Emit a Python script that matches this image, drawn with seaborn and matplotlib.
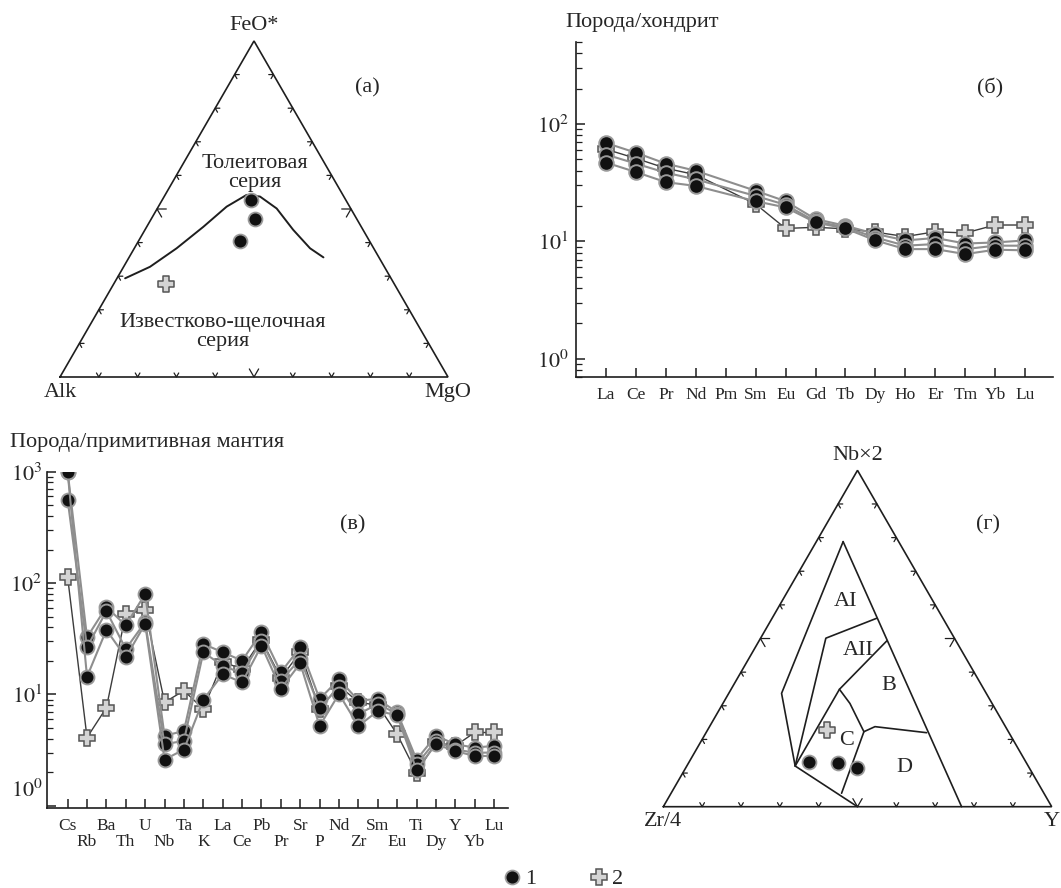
import numpy as np
import pandas as pd
import matplotlib
matplotlib.use("Agg")
import matplotlib.pyplot as plt
import seaborn as sns
from matplotlib.lines import Line2D
from matplotlib.ticker import NullFormatter, NullLocator, LogLocator
from matplotlib.transforms import ScaledTranslation

# ------------------------------------------------------------------ data
# (а) AFM diagram: Alk - FeO* - MgO (wt. %)
afm_alk_1 = [24.4, 26.3, 33.3]
afm_feo_1 = [52.7, 46.9, 40.5]
afm_mgo_1 = [22.9, 26.8, 26.2]
afm_alk_2 = [58.8]
afm_feo_2 = [27.7]
afm_mgo_2 = [13.5]
# tholeiitic / calc-alkaline dividing line
ib_alk = [68.6, 60.4, 50.8, 40.7, 31.7, 24.8, 21.6, 19.1, 18.0, 16.4, 14.3]
ib_feo = [29.4, 32.8, 38.3, 44.7, 50.7, 54.2, 53.7, 50.2, 43.8, 38.3, 35.6]
ib_mgo = [2.1, 6.8, 10.9, 14.6, 17.6, 21.0, 24.7, 30.8, 38.2, 45.3, 50.1]

# (б) chondrite-normalised REE
ree = ['La', 'Ce', 'Pr', 'Nd', 'Pm', 'Sm', 'Eu', 'Gd', 'Tb', 'Dy', 'Ho', 'Er', 'Tm', 'Yb', 'Lu']
nan = np.nan
ree_s1 = [69, 57, 46, 40, nan, 27, 22, 15.5, 13.6, 11.6, 10.2, 10.7, 9.6, 9.8, 10.2]
ree_s2 = [55, 46, 38.5, 33.8, nan, 24.4, 20.5, 14.8, 13.2, 10.8, 9.2, 9.5, 8.6, 9.2, 9.2]
ree_s3 = [47, 39, 32, 29.7, nan, 22, 19.5, 14.5, 12.9, 10.2, 8.6, 8.6, 7.8, 8.5, 8.4]
ree_x = [61, 51, 42, 37, nan, 20.8, 12.9, 13.2, 12.8, 12.0, 11.0, 12.1, 11.8, 13.8, 13.8]
ree_yticks = [1, 10, 100]
ree_yticklabels = [r'$10^0$', r'$10^1$', r'$10^2$']

# (в) primitive-mantle normalised spidergram
pm = ['Cs', 'Rb', 'Ba', 'Th', 'U', 'Nb', 'Ta', 'K', 'La', 'Ce', 'Pb', 'Pr', 'Sr',
      'P', 'Nd', 'Zr', 'Sm', 'Eu', 'Ti', 'Dy', 'Y', 'Yb', 'Lu']
pm_s1 = [1000, 32.6, 61, 41.6, 80, 4.25, 4.7, 28.4, 23.9, 20.1, 36.2, 15.8, 26.5,
         9.1, 13.7, 8.8, 9.1, 6.9, 2.6, 4.25, 3.57, 3.33, 3.45]
pm_s2 = [560, 26.5, 56, 25.6, 44.6, 3.57, 3.83, 23.9, 18.1, 15.5, 30.4, 13.3, 20.8,
         7.6, 11.6, 6.65, 8.2, 6.7, 2.35, 3.83, 3.2, 3.0, 3.0]
pm_s3 = [1000, 14.4, 38, 21.5, 43, 2.6, 3.2, 8.95, 15.2, 12.8, 27.4, 11.2, 19.0,
         5.2, 10.1, 5.2, 7.1, 6.5, 2.1, 3.57, 3.1, 2.8, 2.8]
pm_x = [113, 4.1, 7.6, 53, 57, 8.5, 10.8, 7.4, 19.5, 17, 31, 14, 24,
        7.4, 12, 8.5, 8, 4.4, 1.98, 3.7, 3.45, 4.55, 4.55]
pm_yticks = [1, 10, 100, 1000]
pm_yticklabels = [r'$10^0$', r'$10^1$', r'$10^2$', r'$10^3$']

# (г) Zr/4 - Nb*2 - Y diagram (Meschede)
zny_zr_1 = [55.7, 48.5, 44.3]
zny_nb_1 = [13.4, 12.9, 11.6]
zny_y_1 = [30.9, 38.6, 44.1]
zny_zr_2 = [46.5]
zny_nb_2 = [22.8]
zny_y_2 = [30.7]
# field boundaries, each polyline as (Zr, Nb, Y) vertices
fields = [
    [(14.3, 78.8, 6.9), (52.7, 33.7, 13.6), (60.0, 12.1, 27.9), (50.0, 0.0, 50.0)],
    [(14.3, 78.8, 6.9), (23.2, 0.0, 76.8)],
    [(17.1, 56.0, 26.9), (33.1, 50.1, 16.8), (60.0, 12.1, 27.9)],
    [(17.8, 49.3, 32.9), (37.2, 34.9, 27.9), (60.0, 12.1, 27.9)],
    [(37.2, 34.9, 27.9), (36.6, 30.7, 32.7), (37.2, 22.3, 40.5), (52.1, 4.0, 43.9)],
    [(37.2, 22.3, 40.5), (33.6, 23.8, 42.6), (21.2, 22.0, 56.8)],
]
field_names = ['AI', 'AII', 'B', 'C', 'D']
field_label_pos = [(22.7, 61.0, 16.3), (26.6, 46.4, 27.0), (23.9, 35.9, 40.2),
                   (42.9, 19.8, 37.3), (32.2, 11.6, 56.2)]
legend_labels = ['1', '2']

# ------------------------------------------------------------------ style
W, H = 1061, 888
sns.set_style('ticks')
plt.rcParams['font.family'] = ['Liberation Serif', 'DejaVu Serif']
plt.rcParams['mathtext.fontset'] = 'stix'
INK = '#1e1e1e'
C_FACE, C_EDGE = '#111111', '#9a9a9a'
X_FACE, X_EDGE = '#d4d4d4', '#555555'
FS = 16

fig = plt.figure(figsize=(W / 100, H / 100), dpi=100)
S3 = np.sqrt(3) / 2


def px_axes(l, t, r, b):
    return fig.add_axes([l / W, 1 - b / H, (r - l) / W, (b - t) / H])


def tern_xy(left, top, right):
    left, top, right = (np.asarray(v, float) for v in (left, top, right))
    tot = left + top + right
    tt, rr = top / tot, right / tot
    return rr + tt / 2, tt * S3


def tern_axes(l, t, r, b, ox, oy, side, labels):
    ax = px_axes(l, t, r, b)
    ax.set_xlim((l - ox) / side, (r - ox) / side)
    ax.set_ylim((oy - b) / side, (oy - t) / side)
    ax.set_axis_off()
    verts = np.array([[0, 0], [1, 0], [0.5, S3]])
    ax.plot([0, 1, 0.5, 0], [0, 0, S3, 0], color=INK, lw=1.2, solid_joinstyle='miter')
    for a, bb, c in [(0, 1, 2), (1, 2, 0), (2, 0, 1)]:
        A, B, C = verts[a], verts[bb], verts[c]
        d1 = (C - A) / np.linalg.norm(C - A)
        d2 = (C - B) / np.linalg.norm(C - B)
        for k in range(1, 10):
            p = A + (B - A) * k / 10
            L = 0.024 if k == 5 else 0.012
            q = np.array([p + L * d1, p, p + L * d2])
            ax.plot(q[:, 0], q[:, 1], color=INK, lw=0.9)
    ax.text(0.5, S3 + 15 / side, labels[1], ha='center', va='center', fontsize=FS)
    ax.text(0.0, -15 / side, labels[0], ha='center', va='center', fontsize=FS)
    ax.text(1.0, -15 / side, labels[2], ha='center', va='center', fontsize=FS)
    return ax


def tern_points(ax, l, t, r, circle, ms_c, ms_x):
    x, y = tern_xy(l, t, r)
    df = pd.DataFrame({'x': x, 'y': y})
    if circle:
        sns.scatterplot(data=df, x='x', y='y', ax=ax, marker='o', s=ms_c ** 2,
                        color=C_FACE, edgecolor=C_EDGE, linewidth=1.3, zorder=5)
    else:
        sns.scatterplot(data=df, x='x', y='y', ax=ax, marker='P', s=ms_x ** 2,
                        color=X_FACE, edgecolor=X_EDGE, linewidth=1.1, zorder=5)


# ------------------------------------------------------------------ (а)
ax_a = tern_axes(0, 0, 540, 420, 60, 377, 388, ['Alk', 'FeO*', 'MgO'])
cx, cy = tern_xy(ib_alk, ib_feo, ib_mgo)
sns.lineplot(x=cx, y=cy, ax=ax_a, color=INK, lw=1.4, sort=False, estimator=None)
tern_points(ax_a, afm_alk_1, afm_feo_1, afm_mgo_1, True, 10, 11.5)
tern_points(ax_a, afm_alk_2, afm_feo_2, afm_mgo_2, False, 10, 11.5)
ax_a.text(0.5026, 0.5258, 'Толеитовая\nсерия', ha='center', va='center',
          fontsize=FS, linespacing=0.95)
ax_a.text(0.4201, 0.1160, 'Известково-щелочная\nсерия', ha='center', va='center',
          fontsize=FS, linespacing=0.95)
ax_a.text(0.791, 0.745, '(а)', ha='center', va='center', fontsize=FS)

# ------------------------------------------------------------------ (г)
ax_d = tern_axes(600, 430, 1061, 850, 663.3, 806.7, 388.4, ['Zr/4', 'Nb×2', 'Y'])
for poly in fields:
    zr, nb, yy = zip(*poly)
    fx, fy = tern_xy(zr, nb, yy)
    ax_d.plot(fx, fy, color=INK, lw=1.2)
for name, (zr, nb, yy) in zip(field_names, field_label_pos):
    fx, fy = tern_xy(zr, nb, yy)
    ax_d.text(fx, fy, name, ha='center', va='center', fontsize=FS)
tern_points(ax_d, zny_zr_2, zny_nb_2, zny_y_2, False, 10, 11)
tern_points(ax_d, zny_zr_1, zny_nb_1, zny_y_1, True, 10, 11)
ax_d.text((988 - 663.3) / 388.4, (806.7 - 525) / 388.4, '(г)', ha='center',
          va='center', fontsize=FS)


# ------------------------------------------------------------------ spider plots
def spider(ax, names, circles, cross, ms_c, ms_x):
    pos = np.arange(len(names))
    df = pd.DataFrame({'x': pos, 'y': cross}).dropna()
    sns.lineplot(data=df, x='x', y='y', ax=ax, color='#3c3c3c', lw=1.0,
                 marker='P', markersize=ms_x, markerfacecolor=X_FACE,
                 markeredgecolor=X_EDGE, markeredgewidth=1.1, sort=False,
                 estimator=None, zorder=3)
    for vals in circles:
        df = pd.DataFrame({'x': pos, 'y': vals}).dropna()
        sns.lineplot(data=df, x='x', y='y', ax=ax, color='#8e8e8e', lw=1.5,
                     marker='o', markersize=ms_c, markerfacecolor=C_FACE,
                     markeredgecolor=C_EDGE, markeredgewidth=1.4, sort=False,
                     estimator=None, zorder=4)
    ax.set_yscale('log')
    ax.set_xticks(pos)
    ax.xaxis.set_minor_locator(NullLocator())
    ax.yaxis.set_minor_locator(LogLocator(base=10, subs=np.arange(2, 10)))
    ax.yaxis.set_minor_formatter(NullFormatter())
    ax.set_xlabel('')
    ax.set_ylabel('')
    for s in ['top', 'right']:
        ax.spines[s].set_visible(False)
    for s in ['left', 'bottom']:
        ax.spines[s].set_linewidth(1.2)
        ax.spines[s].set_color(INK)
    ax.tick_params(axis='both', which='major', direction='in', length=6.5,
                   width=1.1, color=INK)
    ax.tick_params(axis='y', which='minor', direction='in', length=4, width=0.9,
                   color=INK)
    ax.tick_params(axis='x', labelsize=12.5, pad=7)
    ax.tick_params(axis='y', labelsize=16, pad=5)
    ax.patch.set_alpha(0)


# (б)
ax_b = px_axes(576, 42, 1053, 377)
spider(ax_b, ree, [ree_s1, ree_s2, ree_s3], ree_x, 10.5, 12)
ax_b.set_xticklabels(ree)
ax_b.set_yticks(ree_yticks)
ax_b.set_yticklabels(ree_yticklabels)
ax_b.set_xlim(-1, 14.93)
ax_b.set_ylim(0.70, 500)
fig.text(565 / W, 1 - 22 / H, 'Порода/хондрит', ha='left', va='center', fontsize=FS)
fig.text(990 / W, 1 - 88 / H, '(б)', ha='center', va='center', fontsize=FS)

# (в)
ax_c = px_axes(46.7, 471.7, 508, 808)
spider(ax_c, pm, [pm_s1, pm_s2, pm_s3], pm_x, 10, 11.5)
ax_c.set_xticklabels([n if i % 2 == 0 else '\n' + n for i, n in enumerate(pm)],
                     linespacing=1.05)
ax_c.set_yticks(pm_yticks)
ax_c.set_yticklabels(pm_yticklabels)
ax_c.set_xlim(-1.08, 22.72)
ax_c.set_ylim(0.955, 1000)
ax_c.tick_params(axis='y', pad=3)
lab0 = ax_c.get_yticklabels()[0]
lab0.set_transform(lab0.get_transform() + ScaledTranslation(0, 0.18, fig.dpi_scale_trans))
fig.text(10 / W, 1 - 443 / H, 'Порода/примитивная мантия', ha='left', va='center',
         fontsize=FS)
fig.text(353 / W, 1 - 525 / H, '(в)', ha='center', va='center', fontsize=FS)

# ------------------------------------------------------------------ legend
handles = [
    Line2D([], [], ls='', marker='o', ms=10, mfc=C_FACE, mec=C_EDGE, mew=1.3),
    Line2D([], [], ls='', marker='P', ms=11.5, mfc=X_FACE, mec=X_EDGE, mew=1.1),
]
fig.legend(handles, legend_labels, loc='center', bbox_to_anchor=(563 / W, 1 - 879 / H),
           ncol=2, frameon=False, fontsize=FS, handlelength=0.8, handletextpad=0.2,
           columnspacing=2.4, borderpad=0, borderaxespad=0)

fig.savefig('out.png', dpi=100)
